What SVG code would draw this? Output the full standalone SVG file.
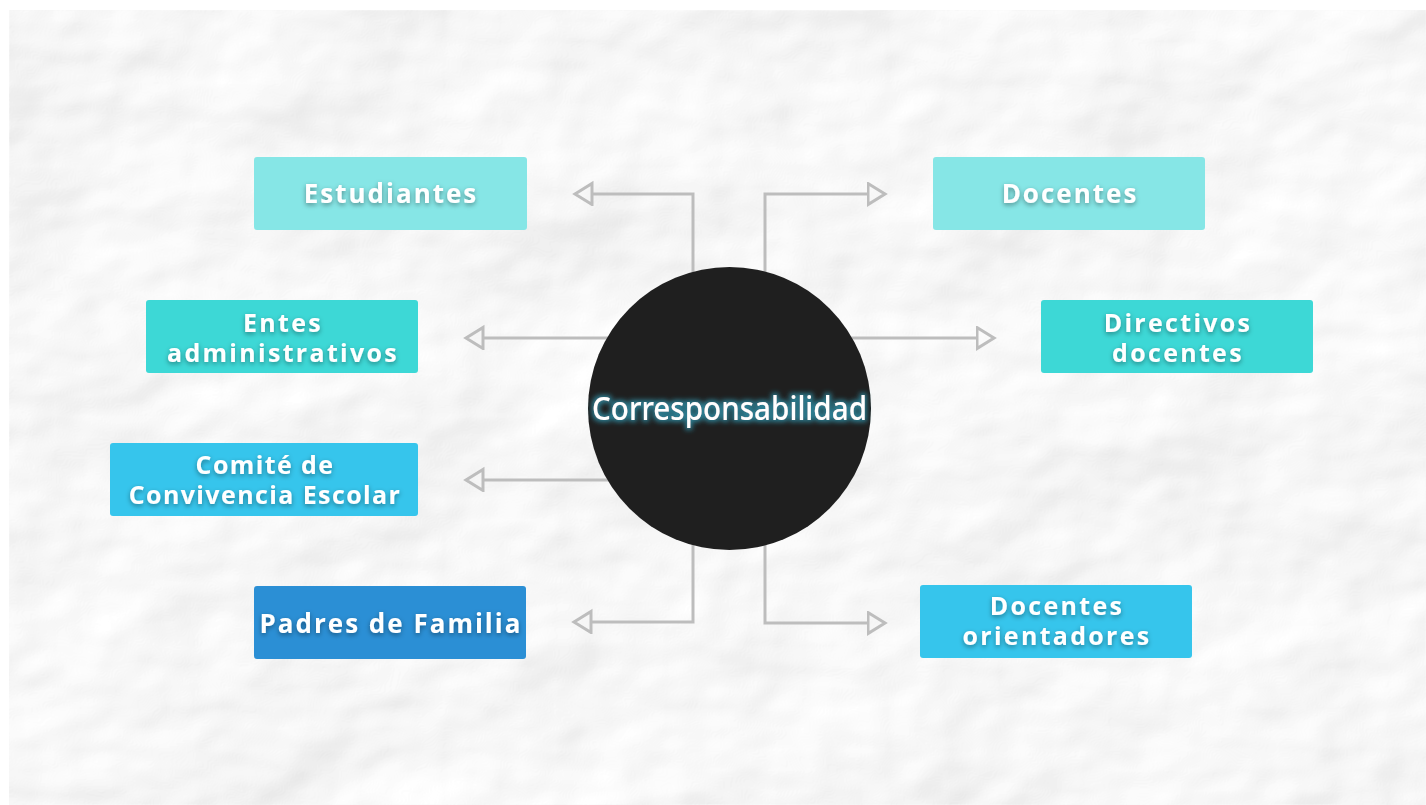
<svg xmlns="http://www.w3.org/2000/svg" width="1426" height="805" viewBox="0 0 1426 805">
  <style>
    .box { stroke: none; }
    .lbl { font-family: "Open Sans", "Liberation Sans", sans-serif; font-weight: 700; font-size: 26px; letter-spacing: 2px; fill: #ffffff; text-anchor: middle; filter: url(#tshadow); }
    .two { font-size: 25px; letter-spacing: 2.3px; }
    .sm { font-size: 25px; letter-spacing: 1.4px; }
    .conn { fill: none; stroke: #bdbdbd; stroke-width: 3; marker-end: url(#arrow); }
    .c1 { fill: #86e6e6; }
    .c2 { fill: #3dd8d6; }
    .c3 { fill: #36c5ec; }
    .c4 { fill: #2b8fd5; }
  </style>
  <defs>
    <marker id="arrow" markerUnits="userSpaceOnUse" markerWidth="24" markerHeight="28" refX="1.5" refY="12" orient="auto" viewBox="0 0 24 28">
      <path d="M1.5,1.5 L18.5,12 L1.5,22.5 Z" fill="none" stroke="#bdbdbd" stroke-width="3" stroke-linejoin="miter"/>
    </marker>
    <filter id="tshadow" x="-10%" y="-30%" width="120%" height="160%">
      <feDropShadow dx="0" dy="2" stdDeviation="2.5" flood-color="#000000" flood-opacity="0.4"/>
    </filter>
    <filter id="glow" x="-10%" y="-40%" width="120%" height="180%">
      <feMorphology in="SourceAlpha" operator="dilate" radius="1.5" result="d"/>
      <feGaussianBlur in="d" stdDeviation="2.5" result="b"/>
      <feFlood flood-color="#2f8ea5" flood-opacity="0.85"/>
      <feComposite in2="b" operator="in" result="g"/>
      <feMerge><feMergeNode in="g"/><feMergeNode in="SourceGraphic"/></feMerge>
    </filter>
    <filter id="paper" x="0" y="0" width="100%" height="100%">
      <feTurbulence type="fractalNoise" baseFrequency="0.0045 0.006" numOctaves="4" seed="11" result="n"/>
      <feDiffuseLighting in="n" lighting-color="#ffffff" surfaceScale="14" diffuseConstant="1" result="l">
        <feDistantLight azimuth="225" elevation="48"/>
      </feDiffuseLighting>
      <feComponentTransfer>
        <feFuncR type="linear" slope="0.5" intercept="0.56"/>
        <feFuncG type="linear" slope="0.5" intercept="0.56"/>
        <feFuncB type="linear" slope="0.5" intercept="0.56"/>
      </feComponentTransfer>
    </filter>
  </defs>

  <rect x="0" y="0" width="1426" height="805" fill="#ffffff"/>
  <rect x="9" y="10" width="1417" height="795" fill="#f2f2f2" filter="url(#paper)"/>

  <g id="connectors">
    <path class="conn" d="M693,300 L693,194 L592,194"/>
    <path class="conn" d="M765,300 L765,194 L868,194"/>
    <path class="conn" d="M650,338 L483,338"/>
    <path class="conn" d="M810,338 L977,338"/>
    <path class="conn" d="M650,480 L483,480"/>
    <path class="conn" d="M693,500 L693,622 L591,622"/>
    <path class="conn" d="M765,500 L765,623 L868,623"/>
  </g>

  <g id="center">
    <circle cx="729.5" cy="408.5" r="141.5" fill="#1f1f1f"/>
    <text x="729.5" y="420" font-family="'Noto Sans', 'Open Sans', sans-serif" font-weight="500" font-size="32" fill="#ffffff" text-anchor="middle" textLength="275" lengthAdjust="spacingAndGlyphs" filter="url(#glow)">Corresponsabilidad</text>
  </g>

  <g id="estudiantes">
    <rect class="box c1" x="254" y="157" width="273" height="73" rx="3"/>
    <text class="lbl" x="391" y="203">Estudiantes</text>
  </g>
  <g id="docentes">
    <rect class="box c1" x="933" y="157" width="272" height="73" rx="3"/>
    <text class="lbl" x="1070" y="203">Docentes</text>
  </g>
  <g id="entes">
    <rect class="box c2" x="146" y="300" width="272" height="73" rx="3"/>
    <text class="lbl two" x="283" y="332"><tspan x="283">Entes</tspan><tspan x="283" dy="30">administrativos</tspan></text>
  </g>
  <g id="directivos">
    <rect class="box c2" x="1041" y="300" width="272" height="73" rx="3"/>
    <text class="lbl two" x="1178" y="332"><tspan x="1178">Directivos</tspan><tspan x="1178" dy="30">docentes</tspan></text>
  </g>
  <g id="comite">
    <rect class="box c3" x="110" y="443" width="308" height="73" rx="3"/>
    <text class="lbl sm" x="265" y="474"><tspan x="265">Comité de</tspan><tspan x="265" dy="30">Convivencia Escolar</tspan></text>
  </g>
  <g id="padres">
    <rect class="box c4" x="254" y="586" width="272" height="73" rx="3"/>
    <text class="lbl" x="391" y="633">Padres de Familia</text>
  </g>
  <g id="orientadores">
    <rect class="box c3" x="920" y="585" width="272" height="73" rx="3"/>
    <text class="lbl two" x="1057" y="615"><tspan x="1057">Docentes</tspan><tspan x="1057" dy="30">orientadores</tspan></text>
  </g>
</svg>
